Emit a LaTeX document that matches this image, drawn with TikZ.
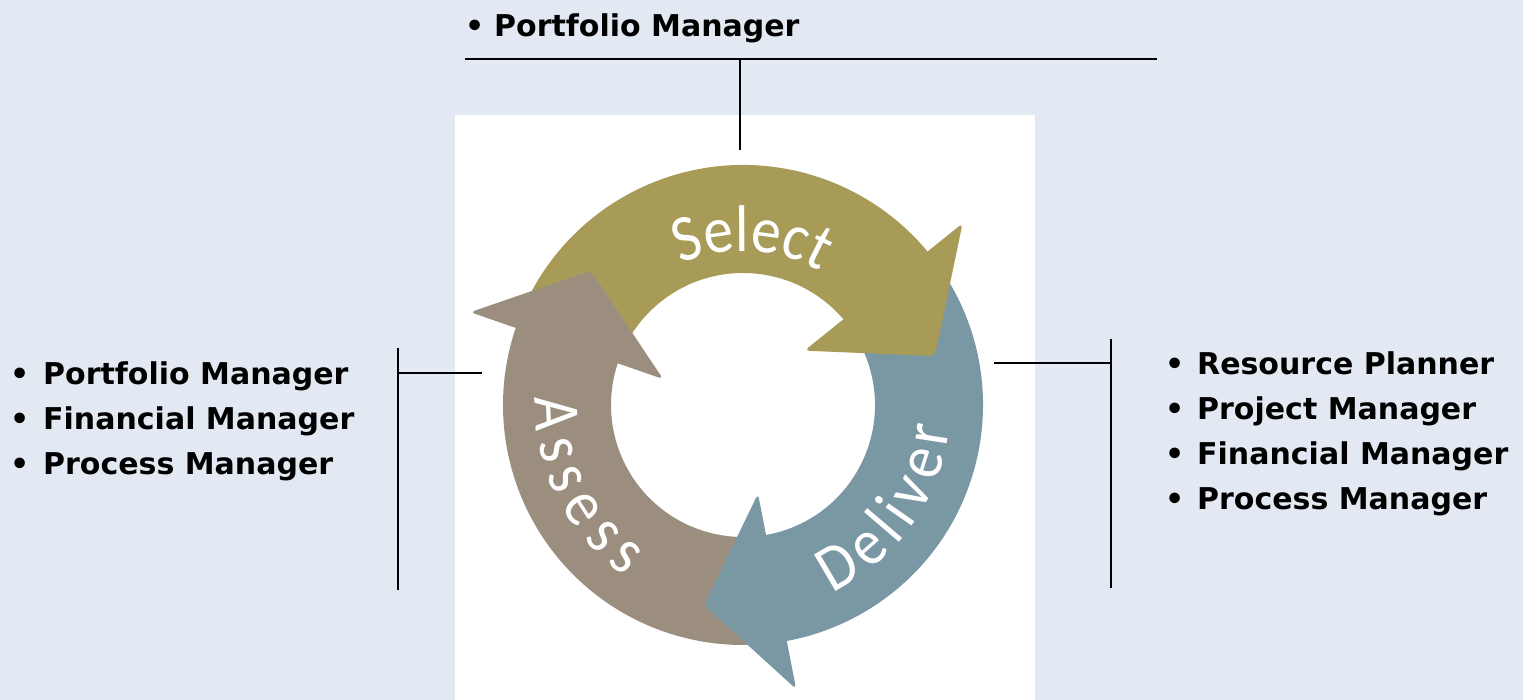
\documentclass[tikz,border=0pt]{standalone}
\usepackage{fontspec}
\setmainfont{DejaVu Sans}
\newfontfamily\listfont{DejaVu Sans}
\newfontfamily\ringfont{Carlito}[FakeStretch=0.9]
\usetikzlibrary{decorations.text}
\definecolor{bgc}{RGB}{227,233,242}
\definecolor{goldc}{RGB}{168,155,88}
\definecolor{bluec}{RGB}{122,151,164}
\definecolor{brownc}{RGB}{156,142,127}
\begin{document}
\begin{tikzpicture}[x=1pt,y=1pt,
  lbl/.style={anchor=base west, inner sep=0pt, font=\listfont\bfseries\fontsize{30}{36}\selectfont},
  bar/.style={line width=2pt, black},
  headshape/.style={rounded corners=5pt},
  ringtext/.style={decorate, decoration={text along path, text color=white}}]
\useasboundingbox (0,0) rectangle (1523,700);
\fill[bgc] (0,0) rectangle (1523,700);
\fill[white] (455,0) rectangle (1035,585);

\begin{scope}[shift={(743,295)}]
  % bodies
  \fill[goldc] (157:240pt) arc[start angle=157,end angle=38,radius=240pt] -- (38:132pt) arc[start angle=38,end angle=157,radius=132pt] -- cycle;
  \fill[bluec] (35:240pt) arc[start angle=35,end angle=-82,radius=240pt] -- (-82:132pt) arc[start angle=-82,end angle=35,radius=132pt] -- cycle;
  \fill[brownc] (-86:240pt) arc[start angle=-86,end angle=-200,radius=240pt] -- (-200:132pt) arc[start angle=-200,end angle=-86,radius=132pt] -- cycle;
  % heads
  \fill[goldc, headshape] (39.6:285pt) -- (14.3:198pt) -- (41.5:82pt) -- cycle;
  \fill[bluec, headshape] (-79.4:289pt) -- (-101:204pt) -- (-80.4:90pt) -- cycle;
  \fill[brownc, headshape] (161.2:288pt) -- (138.6:203pt) -- (162:84pt) -- cycle;
  % labels
  \path[ringtext, decoration={text align=center, text={|\ringfont\fontsize{66}{72}\selectfont|Select}}]
    (132:154pt) arc[start angle=132,end angle=42,radius=154pt];
  \path[ringtext, decoration={text align={fit to path}, text={|\ringfont\fontsize{66}{72}\selectfont|Deliver}}]
    (-64.5:208pt) arc[start angle=-64.5,end angle=-6,radius=208pt];
  \path[ringtext, decoration={text align={fit to path}, text={|\ringfont\fontsize{66}{72}\selectfont|Assess}}]
    (178:208pt) arc[start angle=178,end angle=235.6,radius=208pt];
\end{scope}

% top
\node[lbl] (top) at (494,663) {\llap{•\hspace{10pt}}Portfolio Manager};
\coordinate (topL) at (465,641);
\coordinate (topR) at (1157,641);
\coordinate (topM) at (740,641);
\coordinate (ringT) at (740,550);
\draw[bar] (topL) -- (topR);
\draw[bar] (topM) -- (ringT);

% left
\node[lbl] (l1) at (43,315) {\llap{•\hspace{14pt}}Portfolio Manager};
\node[lbl] (l2) at (43,270) {\llap{•\hspace{14pt}}Financial Manager};
\node[lbl] (l3) at (43,225) {\llap{•\hspace{14pt}}Process Manager};
\coordinate (leftT) at (398,352);
\coordinate (leftB) at (398,110);
\coordinate (leftM) at (398,327);
\coordinate (ringL) at (482,327);
\draw[bar] (leftT) -- (leftB);
\draw[bar] (leftM) -- (ringL);

% right
\node[lbl] (r1) at (1197,325) {\llap{•\hspace{13pt}}Resource Planner};
\node[lbl] (r2) at (1197,280) {\llap{•\hspace{13pt}}Project Manager};
\node[lbl] (r3) at (1197,235) {\llap{•\hspace{13pt}}Financial Manager};
\node[lbl] (r4) at (1197,190) {\llap{•\hspace{13pt}}Process Manager};
\coordinate (rightT) at (1111,361);
\coordinate (rightB) at (1111,112);
\coordinate (rightM) at (1111,337);
\coordinate (ringR) at (994,337);
\draw[bar] (rightT) -- (rightB);
\draw[bar] (ringR) -- (rightM);
\end{tikzpicture}
\end{document}
